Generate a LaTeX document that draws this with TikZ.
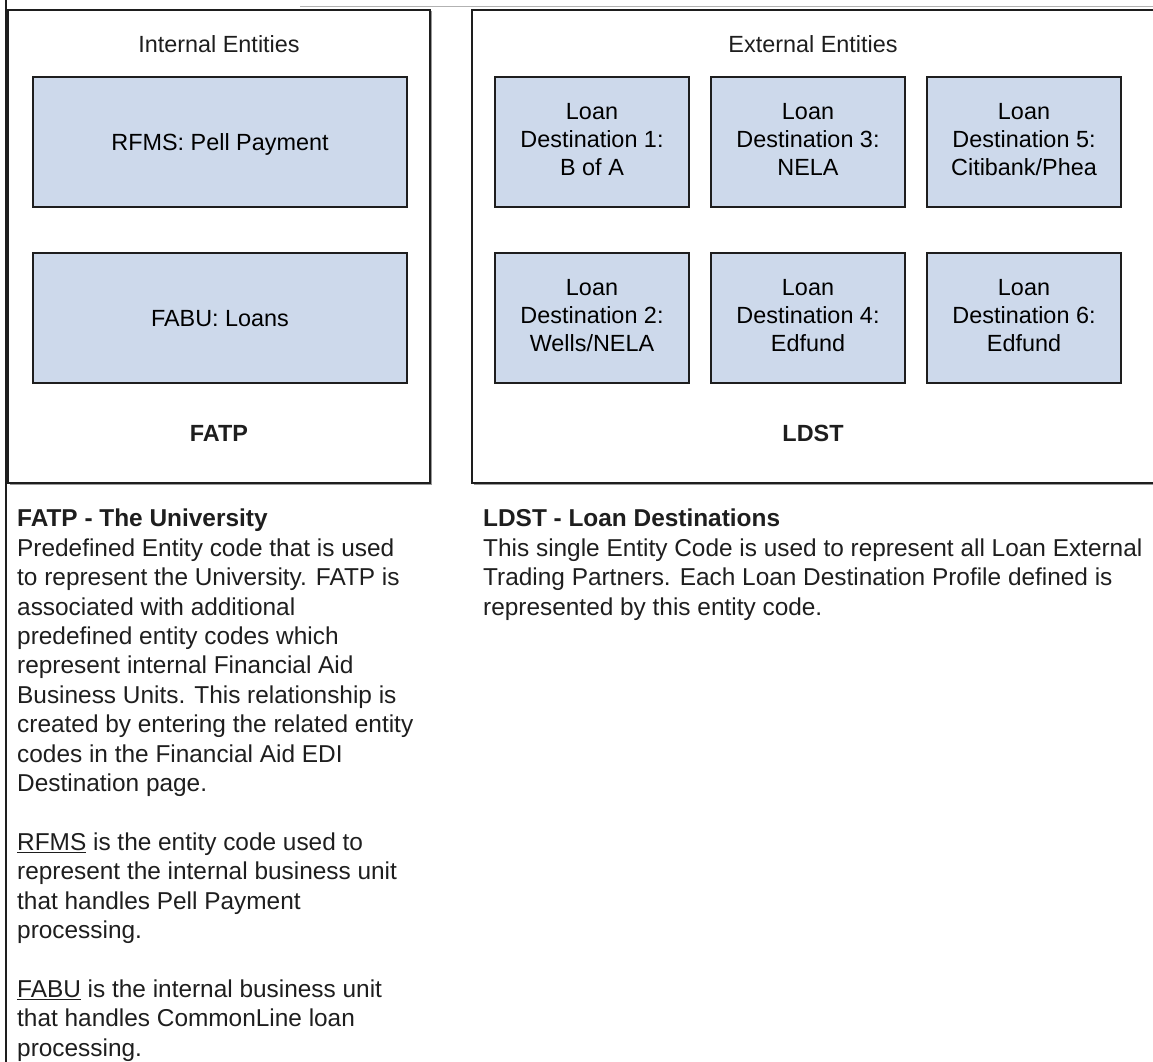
\documentclass[tikz,border=0pt]{standalone}
\usepackage{fontspec}
\setmainfont{Liberation Sans}
\usetikzlibrary{shadows}

\definecolor{entityblue}{RGB}{205,217,235}
\definecolor{inkgray}{RGB}{30,30,30}
\newcommand{\entfont}{\fontsize{23.4}{28}\selectfont}
\newcommand{\notefont}{\fontsize{24.4}{29.4}\selectfont}
\newcommand{\topstrut}{\rule{0pt}{21.8pt}}
\newcommand{\botstrut}{\rule[-5pt]{0pt}{5pt}}

\begin{document}
\begin{tikzpicture}[x=1pt,y=-1pt,
  frame/.style={draw=inkgray, line width=2.4pt, fill=white, inner sep=0pt,
    drop shadow={shadow xshift=1.5pt, shadow yshift=-1.5pt, fill=black!40, opacity=1}},
  unit/.style={draw=inkgray, line width=2.2pt, fill=entityblue, inner sep=0pt,
    minimum width=194pt, minimum height=130pt, align=center, font=\entfont,
    execute at begin node=\topstrut, execute at end node=\botstrut,
    drop shadow={shadow xshift=1.2pt, shadow yshift=-1.2pt, fill=black!40, opacity=1}},
  heading/.style={font=\entfont, text=inkgray},
  note/.style={anchor=north west, align=left, inner sep=0pt, font=\notefont, text=inkgray}]
\useasboundingbox (0,0) rectangle (1153,1062);
\clip (0,0) rectangle (1153,1062);

% page rules
\draw[inkgray, line width=1.2pt] (6,0) -- (6,1062);
\draw[black!30, line width=1pt] (300,7) -- (1153,7);

% FATP side
\node[frame, minimum width=422pt, minimum height=473pt] (fatp) at (219,246.5) {};
\node[heading] (internal) at (219,44) {Internal Entities};
\node[unit, minimum width=374pt] (rfms) at (220,142) {RFMS: Pell Payment};
\node[unit, minimum width=374pt] (fabu) at (220,318) {FABU: Loans};
\node[heading, font=\entfont\bfseries] (fatplabel) at (219,433) {FATP};

% LDST side
\node[frame, minimum width=700pt, minimum height=473pt] (ldst) at (822,246.5) {};
\node[heading] (external) at (813,44) {External Entities};
\node[unit] (dest1) at (592,142) {Loan\\Destination 1:\\B of A};
\node[unit] (dest3) at (808,142) {Loan\\Destination 3:\\NELA};
\node[unit] (dest5) at (1024,142) {Loan\\Destination 5:\\Citibank/Phea};
\node[unit] (dest2) at (592,318) {Loan\\Destination 2:\\Wells/NELA};
\node[unit] (dest4) at (808,318) {Loan\\Destination 4:\\Edfund};
\node[unit] (dest6) at (1024,318) {Loan\\Destination 6:\\Edfund};
\node[heading, font=\entfont\bfseries] (ldstlabel) at (813,433) {LDST};

% notes
\node[note] (fatpnote) at (17,509) {\textbf{FATP - The University}\\
Predefined Entity code that is used\\
to represent the University. FATP is\\
associated with additional\\
predefined entity codes which\\
represent internal Financial Aid\\
Business Units. This relationship is\\
created by entering the related entity\\
codes in the Financial Aid EDI\\
Destination page.\\[29.4pt]
\underline{RFMS} is the entity code used to\\
represent the internal business unit\\
that handles Pell Payment\\
processing.\\[29.4pt]
\underline{FABU} is the internal business unit\\
that handles CommonLine loan\\
processing.};
\node[note] (ldstnote) at (483,509) {\textbf{LDST - Loan Destinations}\\
This single Entity Code is used to represent all Loan External\\
Trading Partners. Each Loan Destination Profile defined is\\
represented by this entity code.};
\end{tikzpicture}
\end{document}
